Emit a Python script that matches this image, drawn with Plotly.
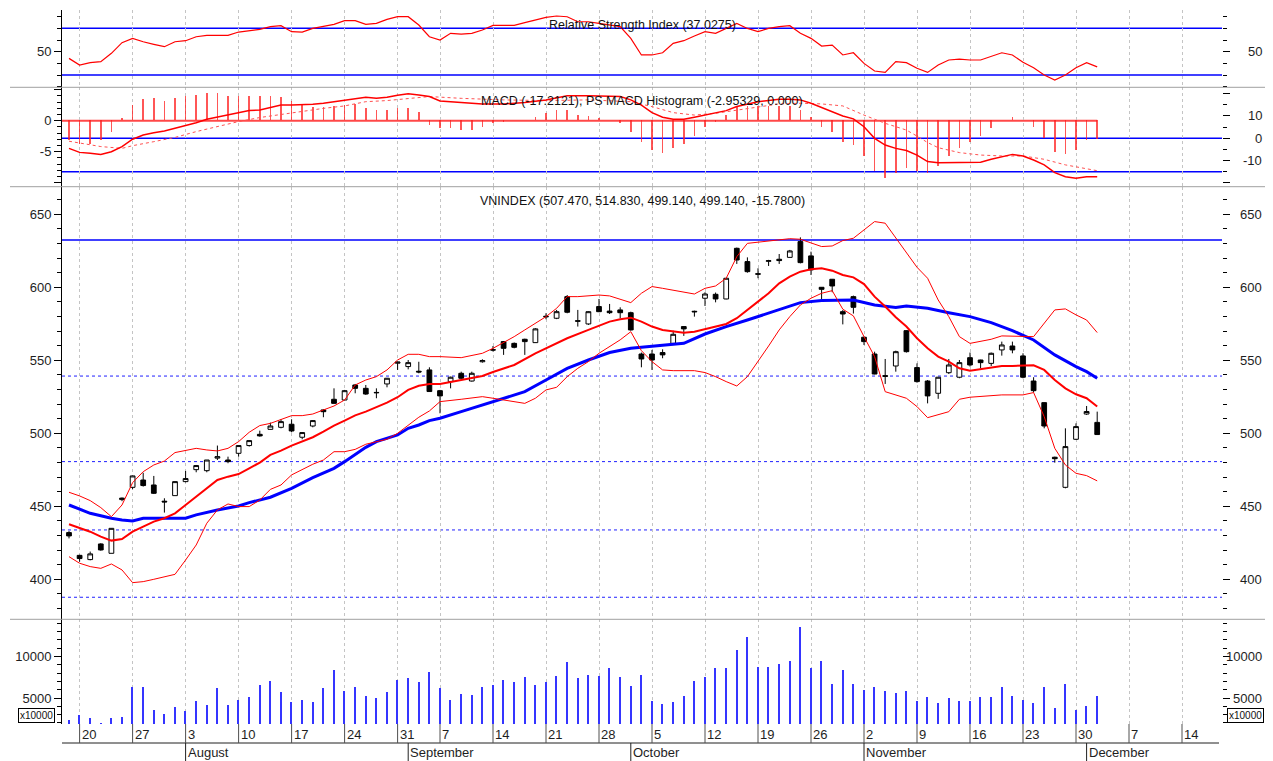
import pandas as pd
import plotly.graph_objects as go

# ---------------- calendar (trading sessions; 2 Sep 2009 was a holiday) -------------
CAL_START, CAL_END = "2009-07-17", "2009-12-18"
HOLIDAYS = ["2009-09-02"]
SESSIONS = [d.strftime("%Y-%m-%d") for d in pd.bdate_range(CAL_START, CAL_END)
            if d.strftime("%Y-%m-%d") not in HOLIDAYS]
POS = {d: i for i, d in enumerate(SESSIONS)}

WEEK_TICK_DATES = ["2009-07-20", "2009-07-27", "2009-08-03", "2009-08-10", "2009-08-17",
                   "2009-08-24", "2009-08-31", "2009-09-07", "2009-09-14", "2009-09-21",
                   "2009-09-28", "2009-10-05", "2009-10-12", "2009-10-19", "2009-10-26",
                   "2009-11-02", "2009-11-09", "2009-11-16", "2009-11-23", "2009-11-30",
                   "2009-12-07", "2009-12-14"]
WEEK_TICK_LABELS = ["20", "27", "3", "10", "17", "24", "31", "7", "14", "21", "28",
                    "5", "12", "19", "26", "2", "9", "16", "23", "30", "7", "14"]
MONTH_DATES = ["2009-08-03", "2009-09-01", "2009-10-01", "2009-11-02", "2009-12-01"]
MONTH_LABELS = ["August", "September", "October", "November", "December"]

# ---------------- VNINDEX daily OHLC ----------------
OPEN = [432, 416.4, 413.5, 424.2, 417.8, 454.6, 463, 468, 464.6, 453.5,
        457.3, 466.9, 475.1, 474.4, 483, 481.7, 486.3, 491.6, 499.3, 502.7,
        504.1, 506.2, 497.3, 505, 516, 523.3, 522.8, 533.1, 530.8, 528,
        533.8, 548, 545.7, 542.5, 543.4, 529.2, 535.4, 541.1, 535.8, 549,
        557.3, 562.8, 561.6, 564.4, 562.1, 579.7, 578.8, 593.6, 577.1, 574.9,
        586.8, 583.7, 584.5, 582.6, 554.3, 554.3, 555.3, 561.6, 573.1, 583.1,
        592.5, 595.2, 592, 626.7, 617.6, 609.3, 617.8, 619.2, 620.5, 631.3,
        621.5, 600, 605.5, 583.3, 593.6, 565.8, 554.3, 539.5, 546.1, 570.3,
        545, 535.8, 527.4, 541.5, 538.4, 551.8, 550.2, 547.9, 557.1, 559.8,
        553, 535.8, 521, 483.6, 463, 495.9, 513.2, 507.47]
HIGH = [433, 416.8, 419, 424.7, 435, 456, 471, 473, 470.8, 455.5,
        467, 474.2, 478.3, 481.7, 491.6, 484, 491.8, 495.3, 501.8, 507.3,
        509.6, 509.6, 500.8, 509.1, 516.4, 530.8, 529.7, 533.8, 533.1, 530.8,
        537.9, 549, 550.2, 549, 545.2, 529.7, 538.8, 542.2, 542.2, 550.7,
        559.8, 563.2, 562.2, 564.8, 572, 582.2, 584.5, 594.7, 584.5, 583.6,
        592, 588.6, 586.3, 583.3, 555.3, 557.1, 557.5, 570.3, 573.3, 584,
        596.6, 596.4, 606.2, 627.2, 620.5, 613, 618.8, 622.8, 625.6, 634.2,
        624.4, 600.2, 605.7, 584.4, 594.3, 566.2, 555.9, 550.9, 556.6, 570.6,
        547.9, 536.5, 538.6, 550.9, 550.2, 555.3, 550.4, 555.3, 562.8, 562.8,
        554.8, 538.4, 521.2, 484, 503.4, 506.8, 518.7, 514.83]
LOW = [428, 412, 413, 419.6, 417.8, 453.5, 461.7, 463.5, 458.4, 445.7,
       457.3, 466.4, 473.3, 473.3, 481.7, 479.5, 484, 490.9, 497.7, 502.5,
       503.4, 500.7, 495.9, 504.1, 511, 520.3, 522.6, 527.4, 526.3, 524,
       531.5, 543.4, 543.8, 541.1, 528.5, 513.7, 530.8, 537, 535.4, 548.4,
       556, 553.7, 558.2, 553.7, 562, 578.1, 578.2, 582.2, 573.1, 574.2,
       583, 581.7, 578.8, 570.3, 545.2, 543.4, 551.4, 561, 566.7, 579.9,
       587.2, 589.7, 591.8, 616, 610, 606.2, 614.6, 616, 620.3, 616.4,
       608.4, 591.6, 596.6, 574.6, 582, 560.5, 540.4, 533.8, 542.2, 555.3,
       534.7, 520.5, 523.6, 540.6, 537.7, 545.7, 544.5, 546.1, 553.2, 554.8,
       537.7, 527.9, 503.4, 479.9, 462.3, 495.4, 512.6, 499.14]
CLOSE = [429.7, 414.2, 417.4, 420.1, 434.9, 455.6, 470.8, 464.2, 458.9, 453,
         466.9, 469, 477.9, 481.7, 484, 480.6, 491.6, 495, 498.2, 505,
         508, 501.6, 500.5, 508.7, 514.8, 520.5, 529.2, 530.8, 526.9, 527.8,
         537.7, 548.8, 548.4, 542, 528.6, 525.6, 538.4, 537.7, 541.1, 549.8,
         557, 558.2, 558.9, 562.8, 571.5, 580.1, 583.3, 582.9, 576.8, 583.3,
         583.3, 582.6, 582.6, 570.8, 550.9, 550.2, 553.7, 567.8, 571.5, 583.5,
         595.4, 592, 606.2, 618.7, 610.7, 609, 618.2, 618.3, 624.9, 616.9,
         611.9, 598.6, 600.9, 581.7, 586.3, 562.8, 540.6, 539, 555.9, 555.9,
         535.4, 525.6, 538.4, 546.8, 548.4, 546.8, 548.4, 554.8, 560.5, 557.1,
         538.4, 529.2, 505, 482.6, 490.9, 504.6, 514.9, 499.14]

# ---------------- Bollinger bands and moving average (None = not read) ----------------
BB_UPPER = [459.6, 457.1, 453.9, 449.1, 442.9, 450.9, 466.2, 473.7, 478.3, 481,
            486.8, 488.1, 489.7, 488.6, 487.9, 489.7, 494.3, 500.7, 505.3, 506.8,
            509.6, 512.1, 512.1, 513.2, 516, 518.7, 522.8, 533.1, 536.5, 538.8,
            543.4, 550.2, 554.1, 554.1, 552.5, 552.5, None, 551.8, None, 554.8,
            558.2, None, 566.2, 570.8, 575.3, 579.9, 585.6, 593.6, 593.6, None,
            594.7, 594.1, None, 589.5, 595.9, 600.5, 599.3, None, 597, 595.4,
            599.3, 600.9, 606.2, 621, 630.1, None, 631.7, None, 633.3, 632.9,
            630.6, 627.9, 628.3, 632, 633.6, None, 645, 643.9, 633.6, None,
            613.7, 606.2, 591.3, 579.9, 566.2, 561.6, 562.8, 564.4, 566.7, None,
            566.7, 566.2, None, 584.5, 585.2, 581.1, 577.6, 569]
BB_MID = [437.7, None, 432.6, 429.2, 426.5, 427.6, 432.6, 436.1, 439.5, 441.8,
          445.2, 450.9, 456.6, 462.3, 468, 470.3, 472.1, 476, 479.9, 485.2,
          488.1, 491.6, 494.3, 497.3, 501.1, 505.3, 508.7, 512.3, 514.8, 517.8,
          521, 524.7, 529.7, 532.6, 533.8, 533.8, None, 536.5, None, 539.3,
          542, None, 546.8, None, 554.8, 558.2, None, 565.1, None, 570.8,
          573.7, 576.5, 578.1, 579.2, 576.5, 573.1, 570.8, 569.6, 568.9, 569.6,
          571.2, 573.1, 574.9, 578.8, 584.5, 590.2, 595.9, 602.7, 607.3, 610.7,
          612.3, 613, 611.4, 608.4, 606.8, 602.2, 593.6, 586.8, 579.5, 573.1,
          565.1, 558.2, 552.5, 549.1, 544.5, 542.9, 543.8, 545.2, 546.1, 546.1,
          546.1, 546.6, 543.4, 536.5, 530.8, 526.7, 524, 518.3]
BB_LOWER = [415.5, 411, 408.7, 407.5, 410.5, 406.4, 397.7, 398.4, 400, 401.8,
            403.4, 413.2, 423.5, 438.4, 447.5, 451.6, 449.8, 449.8, 454.3, 461.6,
            464.6, 471.5, 475.3, 478.8, 481.7, 487.4, 487.4, 489, 492.5, 494.3,
            495.9, 500, 505.7, 511, 515.3, 521.7, None, 523.3, None, 525.1,
            524, 522.8, None, 520.5, 524, 529.7, 531.5, 538.8, 544.5, 549.1,
            554.8, 559.4, 564, 569.6, 556.6, 549.1, 543.4, 542.9, None, 542.9,
            541.6, 538.8, 535.4, 532.4, 538.8, 549.1, 559.8, 570.8, 579.9, 587.9,
            592.5, 595.9, 597.7, 585, 580.4, 566.2, 552.5, 528.5, None, 524,
            518.3, 510.7, None, 514.8, 523.3, 524.7, None, 525.6, 526.3, None,
            526.3, 527.9, 511.4, 489.7, 478.3, 472.6, 471, 467.4]
MA_LONG = [450.9, None, 445.2, None, 441.8, 440.6, 440, 441.8, 441.8, None,
           441.8, 441.8, 444.1, None, 447.5, None, 450.2, 452.5, None, 456.2,
           None, 462.3, None, 469.6, 472.6, 476, 480.6, 485.2, 490.4, 494.3,
           496.6, 498.9, 503.4, 505.7, 508.7, 510.3, None, 514.8, None, 519.4,
           None, 524, None, 528.5, None, 536.5, None, 544.5, None, 550.2,
           None, 555.3, None, 558.2, None, 559.4, None, 560.5, 561.6, None,
           568, None, 573.1, None, 577.6, None, 582.2, None, 587.2, 589.5,
           None, 590.9, None, 591.3, 591.3, None, 587.9, None, 586.1, 587.2,
           None, 585.6, None, 582.6, None, 579.9, None, 575.8, None, 570.3,
           None, 563.9, None, 553.7, None, 545.7, 542.2, 537.7]
PRICE_LEVEL_SOLID = 632.4
PRICE_LEVELS_DOTTED = [539.2, 480.6, 433.8, 387.7]

# ---------------- volume (x10000) ----------------
VOLUME = [2349, 2867, 2506, 1952, 2506, 2675, 6241, 6241, 3554, 3072,
          3880, 3434, 4639, 4157, 6120, 4157, 4759, 5080, 6530, 7012,
          5643, 4434, 4759, 4434, 6120, 8373, 5803, 6289, 5241, 4916,
          5643, 7169, 7325, 6843, 8048, 6120, 4759, 5482, 5361, 6289,
          6566, 7169, 6843, 7446, 6566, 6843, 7614, 9253, 7325, 7735,
          7566, 8530, 7446, 6446, 7735, 4602, 4277, 4434, 5241, 7012,
          7446, 8530, 8530, 10747, 12349, 8651, 8651, 9096, 9373, 13554,
          8530, 9373, 6687, 8373, 6687, 5964, 6289, 5803, 5518, 5803,
          4602, 5080, 4313, 4916, 4639, 4639, 5080, 5080, 6289, 5241,
          4759, 4313, 6289, 3711, 6687, 3554, 4036, 5241]

# ---------------- RSI ----------------
RSI = [44.3, 38.6, 40.6, 41.5, 48.6, 57.7, 61.4, 58.5, 56.3, 54.3,
       58.5, 59.4, 62.8, 64, 64, 64, 66.8, 67.9, 69.1, 71.4,
       72.2, 67.1, 66.8, 69.9, 71.4, 73.4, 76.5, 76.5, 73.4, 74.2,
       77.6, 79.9, 79.9, 72.8, 62.8, 60, 65.7, 65.1, 65.7, 68.5,
       72.5, 72.5, 72.5, 74.8, 77.1, 79.3, 80.5, 79.9, 75.6, 75.6,
       74.2, 72.8, 71.4, 61.4, 47.2, 47.2, 49.1, 57.1, 59.4, 63.4,
       67.1, 65.7, 69.9, 74.2, 69.9, 67.1, 69.9, 71.4, 72.2, 65.7,
       61.4, 54.8, 55.7, 47.2, 49.1, 40, 33.5, 32.3, 41.5, 40.6,
       35.8, 32.3, 38.6, 42.9, 43.7, 42.9, 42.9, 45.7, 49.1, 47.2,
       40.9, 36.3, 30.1, 25.8, 30.1, 36.3, 40.6, 37.03]
RSI_LEVELS = [70, 30]

# ---------------- MACD ----------------
MACD = [-4.5, -6.3, -6.7, -7.2, -6, -3.7, -0.4, 1.5, 2.5, 3.3,
        4.5, 5.7, 7, 8.5, 9.4, 10.4, 11.5, 12.4, 12.7, 13.9,
        14.9, 14.9, 14.9, 15.2, 15.7, 16.4, 17.2, 17.9, 18.4, 17.9,
        18.4, 19.3, 19.9, 19.4, 18.7, 16.7, None, 16, None, 15.4,
        None, 15.4, None, 16, None, 17.2, None, 19.1, None, 19.1,
        19, 18.7, 18.7, 17.2, 14.9, 11.5, 9.4, 8.5, 8.5, 9.4,
        10.4, 11.2, 12.4, 14.2, 15.4, 16.4, 16.9, 17.5, 17.5, 17.2,
        15.7, 13.9, 11.9, 10, 8.7, 5.2, 0, -3, -4.5, -5.5,
        -7.5, -10.4, -10.9, -10.9, -10.9, -10.7, -10.7, -9.4, -8.2, -7.2,
        -7.9, -9.7, -11.9, -15.4, -17.2, -17.9, -17.2, -17.21]
MACD_SIGNAL = [-1.3, -2.2, None, -3.7, None, -4.5, -3.3, None, -1.5, None,
               0.4, None, 3, None, 5.2, None, 7.5, None, 9.3, None,
               10.7, None, 12.2, None, 13.4, None, 14.5, None, 16.4, None,
               16.9, None, 17.9, None, 18.7, None, None, 17.9, None, None,
               None, 17.2, None, None, None, 16.9, None, None, None, 17.2,
               None, None, None, 16.4, None, 14.2, None, 11.5, None, 10.4,
               None, 11.2, None, 12.7, None, 14.2, None, 15.4, None, 15.7,
               None, 15.4, None, 14.5, None, 10.4, None, 6.7, None, 3.7,
               1, -1.9, -4.2, None, -6.4, None, -7.5, None, -7.9, None,
               -7.9, None, -9.4, None, -11.9, None, -13.7, -14.5]
MACD_HIST = [-3.2, -3.8, -3.8, -3.2, -1.9, 0.4, 2.5, 3.4, 3.6, 3.2,
             3.6, 3.9, 4.1, 4.4, 4.4, 4, 4, 4, 4, 4,
             3.8, 3.2, 2.5, 2.2, 2.2, 2.3, 2.5, 2.7, 2, 1.6,
             1.6, 2, 2, 1.3, -0.8, -1.3, -1.3, -1.5, -1.5, -1.1,
             -0.4, -0.3, 0, 0.05, 0.6, 1.2, 1.6, 1.6, 0.9, 0.75,
             0.4, 0, -0.4, -1.8, -3.5, -4.7, -5.2, -4.5, -3.8, -2.5,
             -1, -0.3, 0.9, 2.3, 2.3, 2.3, 2.3, 2.3, 2.3, 1.6,
             0.5, -1.1, -1.9, -3.5, -4, -5.8, -8.1, -9.3, -8.5, -7.7,
             -8.1, -8.5, -7.4, -5.8, -4.5, -3.5, -2.5, -1.2, 0, 0.5,
             0, -1.1, -2.8, -5.1, -5.5, -4.7, -3.2, -2.95]
MACD_LEVELS = [0, -15]

TITLE_RSI = "Relative Strength Index (37.0275)"
TITLE_MACD = "MACD (-17.2121), PS MACD Histogram (-2.95329, 0.000)"
TITLE_PRICE = "VNINDEX (507.470, 514.830, 499.140, 499.140, -15.7800)"

# ---------------- geometry (page coordinates; the page body has an 8px margin) -------
PAGE_OFF = 8
W, H = 1273 - PAGE_OFF, 761 - PAGE_OFF
PLOT_LEFT, PLOT_RIGHT, PLOT_TOP, PLOT_BOTTOM = 62, 1222, 10, 724
ML = PLOT_LEFT - PAGE_OFF
MT = PLOT_TOP - PAGE_OFF
MR = W - (PLOT_RIGHT - PAGE_OFF)
MB = H - (PLOT_BOTTOM - PAGE_OFF)
PW, PH = W - ML - MR, H - MT - MB
DAY_PX = 10.6
X_MIN = -7.0 / DAY_PX
X_MAX = X_MIN + PW / DAY_PX
RIGHT_TEXT_EDGE = 1264   # right labels must stay inside the visible page


def py(px):
    return 1 - (px - PLOT_TOP) / PH


def pxx(px):
    return (px - PLOT_LEFT) / PW


FONT = "Liberation Sans, Arial, sans-serif"
TXT = "#1e1e1e"
X = list(range(len(CLOSE)))

D_RSI = [py(87.3), 1.0]
D_MACD = [py(186.7), py(87.3)]
D_PRICE = [py(619.3), py(186.7)]
D_VOL = [0.0, py(619.3)]

R_RSI = [19.57, 85.64]
R_HIST = [-10.65, 5.39]
R_MACD = [-21.67, 22.84]
R_PRICE = [372.6, 668.9]
R_VOL = [1867, 14481]

fig = go.Figure()

# RSI
fig.add_trace(go.Scatter(x=X, y=RSI, mode="lines", line=dict(color="#ff0000", width=1.2),
                         xaxis="x", yaxis="y", hoverinfo="skip"))
# MACD histogram (left axis) + MACD / signal (right axis)
fig.add_trace(go.Bar(x=X, y=MACD_HIST, width=0.16, marker=dict(color="rgba(255,30,30,0.75)", line=dict(width=0)),
                     xaxis="x", yaxis="y2", hoverinfo="skip"))
fig.add_trace(go.Scatter(x=X, y=MACD_SIGNAL, mode="lines", connectgaps=True,
                         line=dict(color="#ff5050", width=1, dash="dot"),
                         xaxis="x", yaxis="y3", hoverinfo="skip"))
fig.add_trace(go.Scatter(x=X, y=MACD, mode="lines", connectgaps=True,
                         line=dict(color="#ff0000", width=1.5),
                         xaxis="x", yaxis="y3", hoverinfo="skip"))
# price panel
fig.add_trace(go.Scatter(x=X, y=MA_LONG, mode="lines", connectgaps=True,
                         line=dict(color="#0000ff", width=3), xaxis="x", yaxis="y4", hoverinfo="skip"))
fig.add_trace(go.Scatter(x=X, y=BB_UPPER, mode="lines", connectgaps=True,
                         line=dict(color="#ff0000", width=1), xaxis="x", yaxis="y4", hoverinfo="skip"))
fig.add_trace(go.Scatter(x=X, y=BB_LOWER, mode="lines", connectgaps=True,
                         line=dict(color="#ff0000", width=1), xaxis="x", yaxis="y4", hoverinfo="skip"))
fig.add_trace(go.Scatter(x=X, y=BB_MID, mode="lines", connectgaps=True,
                         line=dict(color="#ff0000", width=2), xaxis="x", yaxis="y4", hoverinfo="skip"))
fig.add_trace(go.Candlestick(x=X, open=OPEN, high=HIGH, low=LOW, close=CLOSE,
                             increasing=dict(line=dict(color="black", width=1), fillcolor="white"),
                             decreasing=dict(line=dict(color="black", width=1), fillcolor="black"),
                             whiskerwidth=0, xaxis="x", yaxis="y4", hoverinfo="skip"))
# volume
fig.add_trace(go.Bar(x=X, y=VOLUME, width=0.15, marker=dict(color="#3535ff", line=dict(width=0)),
                     xaxis="x", yaxis="y5", hoverinfo="skip"))
# empty traces so that the right-hand tick axes are instantiated
for ax in ["y6", "y7", "y8", "y3"]:
    fig.add_trace(go.Scatter(x=[None], y=[None], xaxis="x", yaxis=ax, hoverinfo="skip"))


def left_axis(domain, rng, tickvals, ticktext, mdt, m0):
    return dict(domain=domain, range=rng, anchor="x", side="left", showline=True,
                linecolor="black", linewidth=1, ticks="outside", ticklen=7, tickwidth=1,
                tickcolor="black", tickmode="array", tickvals=tickvals, ticktext=ticktext,
                tickfont=dict(family=FONT, size=13, color=TXT),
                minor=dict(ticks="outside", ticklen=4, tickwidth=1, tickcolor="black",
                           tickmode="linear", tick0=m0, dtick=mdt, showgrid=False),
                showgrid=False, zeroline=False, fixedrange=True)


def right_axis(over, rng, tickvals, mdt, m0):
    return dict(overlaying=over, range=rng, anchor="x", side="right", showline=False,
                ticks="outside", ticklen=7, tickwidth=1, tickcolor="black",
                tickmode="array", tickvals=tickvals, showticklabels=False,
                minor=dict(ticks="outside", ticklen=4, tickwidth=1, tickcolor="black",
                           tickmode="linear", tick0=m0, dtick=mdt, showgrid=False),
                showgrid=False, zeroline=False, fixedrange=True)


price_ticks = [400, 450, 500, 550, 600, 650]
shapes = []
# panel separators
for ysep in [87.3, 186.7, 619.3]:
    shapes.append(dict(type="line", xref="paper", yref="paper", x0=pxx(10), x1=pxx(1273),
                       y0=py(ysep), y1=py(ysep), line=dict(color="#a0a0a0", width=1)))
for lv in RSI_LEVELS:
    shapes.append(dict(type="line", xref="paper", yref="y", x0=0, x1=1, y0=lv, y1=lv,
                       line=dict(color="#0000ff", width=1.5), layer="below"))
for lv in MACD_LEVELS:
    shapes.append(dict(type="line", xref="paper", yref="y3", x0=0, x1=1, y0=lv, y1=lv,
                       line=dict(color="#0000ff", width=1.5), layer="below"))
shapes.append(dict(type="line", xref="x", yref="y2", x0=X_MIN, x1=X[-1], y0=0, y1=0,
                   line=dict(color="rgba(255,40,40,0.85)", width=2), layer="below"))
shapes.append(dict(type="line", xref="paper", yref="y4", x0=0, x1=1, y0=PRICE_LEVEL_SOLID,
                   y1=PRICE_LEVEL_SOLID, line=dict(color="#4040ff", width=2), layer="below"))
for lv in PRICE_LEVELS_DOTTED:
    shapes.append(dict(type="line", xref="paper", yref="y4", x0=0, x1=1, y0=lv, y1=lv,
                       line=dict(color="#2020ff", width=1, dash="dot"), layer="below"))
# date axis drawn below the volume panel
shapes.append(dict(type="line", xref="paper", yref="paper", x0=0, x1=pxx(1219),
                   y0=py(743), y1=py(743), line=dict(color="#202020", width=1)))
for d in WEEK_TICK_DATES:
    shapes.append(dict(type="line", xref="x", yref="paper", x0=POS[d], x1=POS[d],
                       y0=py(724), y1=py(743), line=dict(color="#505050", width=1)))
for d in MONTH_DATES:
    shapes.append(dict(type="line", xref="x", yref="paper", x0=POS[d], x1=POS[d],
                       y0=py(743), y1=py(761), line=dict(color="#202020", width=1)))

ann = []
TF = dict(family=FONT, size=12.5, color="#111111")
ann.append(dict(text=TITLE_RSI, xref="paper", yref="paper", x=0.5, y=py(25), showarrow=False,
                xanchor="center", yanchor="middle", font=TF))
ann.append(dict(text=TITLE_MACD, xref="paper", yref="paper", x=0.5, y=py(101), showarrow=False,
                xanchor="center", yanchor="middle", font=TF))
ann.append(dict(text=TITLE_PRICE, xref="paper", yref="paper", x=0.5, y=py(201), showarrow=False,
                xanchor="center", yanchor="middle", font=TF))
RF = dict(family=FONT, size=13, color=TXT)
for yref, vals in [("y", [50]), ("y3", [10, 0, -10]), ("y4", price_ticks), ("y5", [5000, 10000])]:
    for v in vals:
        ann.append(dict(text=str(v), xref="paper", yref=yref, x=pxx(RIGHT_TEXT_EDGE), y=v,
                        showarrow=False, xanchor="right", yanchor="middle", font=RF))
for xc, anch in [(36, "center"), (RIGHT_TEXT_EDGE, "right")]:
    ann.append(dict(text="x10000", xref="paper", yref="paper", x=pxx(xc), y=py(715),
                    showarrow=False, xanchor=anch, yanchor="middle",
                    font=dict(family=FONT, size=10, color="#111"), bordercolor="black",
                    borderwidth=1, borderpad=1, bgcolor="white"))
for d, lab in zip(WEEK_TICK_DATES, WEEK_TICK_LABELS):
    ann.append(dict(text=lab, xref="x", yref="paper", x=POS[d], y=py(734), xshift=0,
                    showarrow=False, xanchor="left", yanchor="middle", font=RF))
for d, lab in zip(MONTH_DATES, MONTH_LABELS):
    ann.append(dict(text=lab, xref="x", yref="paper", x=POS[d], y=py(752.5), xshift=0,
                    showarrow=False, xanchor="left", yanchor="middle", font=RF))

fig.update_layout(
    width=W, height=H, margin=dict(l=ML, r=MR, t=MT, b=MB, pad=0),
    paper_bgcolor="white", plot_bgcolor="white", showlegend=False,
    boxgap=0.36, bargap=0,
    xaxis=dict(domain=[0, 1], range=[X_MIN, X_MAX], anchor="y5", showline=False,
               showticklabels=False, ticks="", tickmode="array",
               tickvals=[POS[d] for d in WEEK_TICK_DATES], showgrid=True,
               gridcolor="#c4c4c4", griddash="dot", gridwidth=1, zeroline=False,
               rangeslider=dict(visible=False), fixedrange=True),
    yaxis=left_axis(D_RSI, R_RSI, [50], ["50"], 10, 0),
    yaxis2=left_axis(D_MACD, R_HIST, [-10, -5, 0, 5], ["", "-5", "0", ""], 1, 0),
    yaxis3=right_axis("y2", R_MACD, [-20, -10, 0, 10, 20], 5, 0),
    yaxis4=left_axis(D_PRICE, R_PRICE, price_ticks, [str(v) for v in price_ticks], 10, 0),
    yaxis5=left_axis(D_VOL, R_VOL, [5000, 10000], ["5000", "10000"], 1000, 0),
    yaxis6=right_axis("y", R_RSI, [50], 10, 0),
    yaxis7=right_axis("y4", R_PRICE, price_ticks, 10, 0),
    yaxis8=right_axis("y5", R_VOL, [5000, 10000], 1000, 0),
    shapes=shapes, annotations=ann,
)

fig.write_html("out.html", config={"displayModeBar": False})
